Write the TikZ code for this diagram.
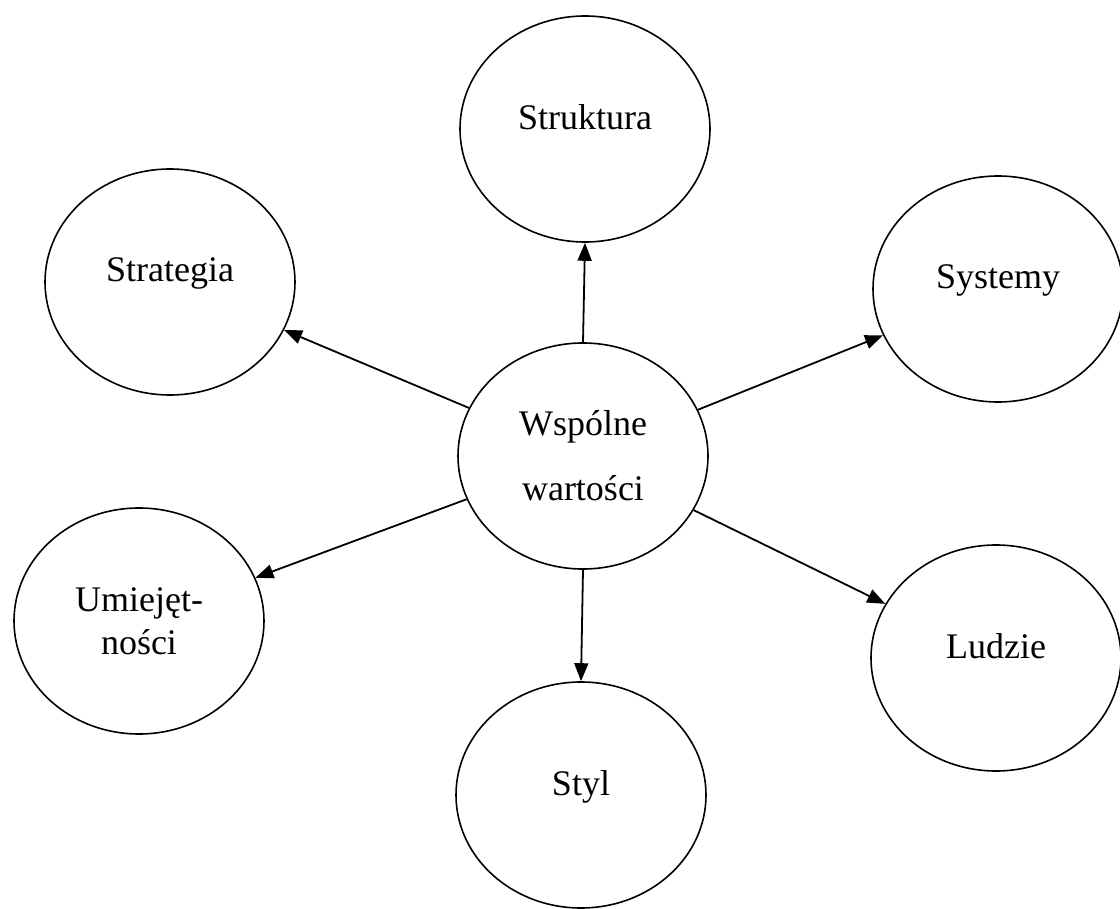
\documentclass[tikz,border=0pt]{standalone}
\usepackage{fontspec}
\setmainfont{Liberation Serif}
\usetikzlibrary{shapes.geometric,arrows.meta}

\begin{document}
\begin{tikzpicture}[
  x=0.5pt, y=-0.5pt,
  bubble/.style={ellipse, draw, line width=0.8pt, inner sep=0pt,
    minimum width=125pt, minimum height=113pt,
    font=\fontsize{18}{21.5}\selectfont, align=center},
  oneline/.style={text depth=12pt},
  link/.style={line width=0.9pt, -{Triangle[length=9pt,width=7pt]}}
]
\useasboundingbox (0,0) rectangle (1120,909);

% centre and the six surrounding elements
\node[bubble] (core) at (583,456)
  {Wspólne\\[11pt]wartości};
\node[bubble, oneline] (struktura) at (585,129) {Struktura};
\node[bubble, oneline] (strategia) at (170,282) {Strategia};
\node[bubble, oneline] (systemy)   at (998,289) {Systemy};
\node[bubble] (umiej)     at (139,621) {Umiejęt-\\ności};
\node[bubble, oneline] (ludzie)    at (996,658) {Ludzie};
\node[bubble, oneline] (styl)      at (581,795) {Styl};

% arrows from the centre outwards
\draw[link] (core.north) -- (struktura.south);
\draw[link] (core) -- (strategia);
\draw[link] (core) -- (systemy);
\draw[link] (core) -- (umiej);
\draw[link] (core) -- (ludzie);
\draw[link] (core.south) -- (styl.north);
\end{tikzpicture}
\end{document}
